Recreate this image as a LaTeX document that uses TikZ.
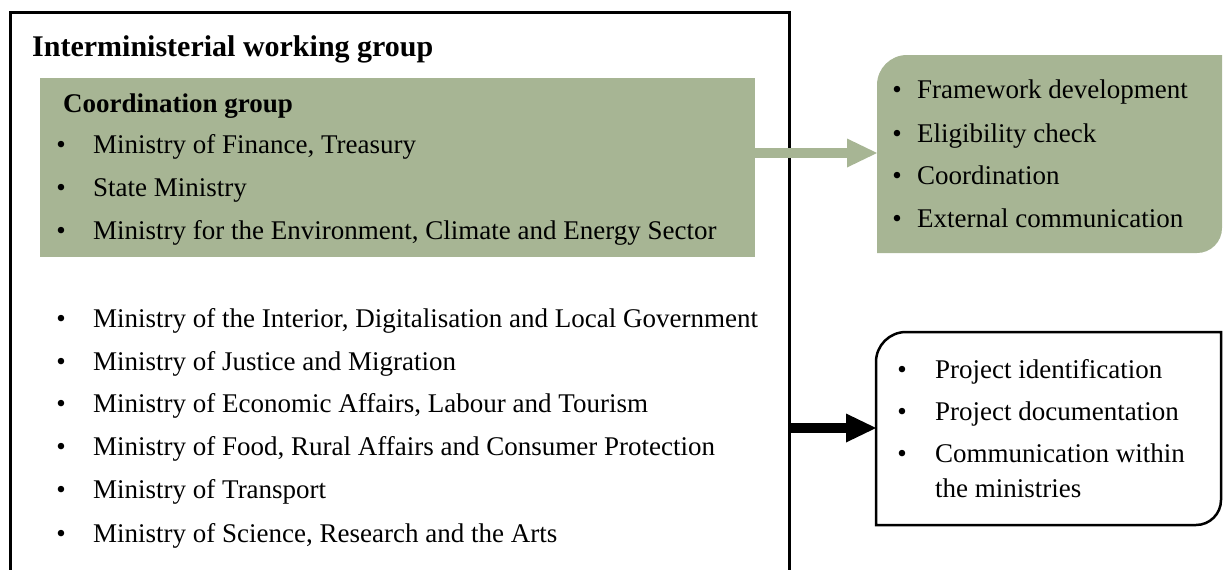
\documentclass[tikz,border=0pt]{standalone}
\usepackage{fontspec}
\setmainfont{Liberation Serif}
\usetikzlibrary{arrows.meta}
\definecolor{sage}{HTML}{A7B594}

\tikzset{
  entry/.style={anchor=base west,inner sep=0pt,font=\fontsize{27}{32}\selectfont},
  boldentry/.style={entry,font=\fontsize{27}{32}\selectfont\bfseries},
  link/.style={line width=10pt,-{Triangle[length=30pt,width=29pt,line width=0pt]}},
}
\newcommand{\blt}[1]{\llap{•\hspace{#1pt}}}

\begin{document}
\begin{tikzpicture}[x=1pt,y=-1pt]
\useasboundingbox (0,0) rectangle (1223,570);
% interministerial working group (runs off the bottom)
\draw[line width=3pt] (10,600) -- (10,12) -- (789,12) -- (789,600);
\node[boldentry,font=\fontsize{30}{36}\selectfont\bfseries] (iwg) at (32,56) {Interministerial working group};
% coordination group
\fill[sage] (40,78) rectangle (755,257);
\node[boldentry] (cg) at (63,112) {Coordination group};
\node[entry] (c1) at (93,153) {\blt{27.3}Ministry of Finance, Treasury};
\node[entry] (c2) at (93,196) {\blt{27.3}State Ministry};
\node[entry] (c3) at (93,239) {\blt{27.3}Ministry for the Environment, Climate and Energy Sector};
% other ministries
\node[entry] (m1) at (93,327) {\blt{27.3}Ministry of the Interior, Digitalisation and Local Government};
\node[entry] (m2) at (93,370) {\blt{27.3}Ministry of Justice and Migration};
\node[entry] (m3) at (93,412) {\blt{27.3}Ministry of Economic Affairs, Labour and Tourism};
\node[entry] (m4) at (93,455) {\blt{27.3}Ministry of Food, Rural Affairs and Consumer Protection};
\node[entry] (m5) at (93,498) {\blt{27.3}Ministry of Transport};
\node[entry] (m6) at (93,542) {\blt{27.3}Ministry of Science, Research and the Arts};
% tasks of the coordination group
\fill[sage] (877,253) -- (877,85) arc[start angle=180,end angle=270,radius=30] -- (1222,55) -- (1222,228) arc[start angle=0,end angle=90,radius=25] -- cycle;
\node[entry] (f1) at (917,98) {\blt{15.3}Framework development};
\node[entry] (f2) at (917,142) {\blt{15.3}Eligibility check};
\node[entry] (f3) at (917,184) {\blt{15.3}Coordination};
\node[entry] (f4) at (917,227) {\blt{15.3}External communication};
% tasks of the ministries
\draw[line width=2.5pt] (876,525) -- (876,362) arc[start angle=180,end angle=270,radius=30] -- (1221,332) -- (1221,500) arc[start angle=0,end angle=90,radius=25] -- cycle;
\node[entry] (p1) at (935,378) {\blt{28.3}Project identification};
\node[entry] (p2) at (935,420) {\blt{28.3}Project documentation};
\node[entry] (p3) at (935,462) {\blt{28.3}Communication within};
\node[entry] (p4) at (935,497) {the ministries};
% arrows
\coordinate (cgE) at (755,153);
\coordinate (tasksW) at (877,153);
\coordinate (iwgE) at (789,428);
\coordinate (projW) at (876,428);
\draw[link,sage] (cgE) -- (tasksW);
\draw[link,black] (iwgE) -- (projW);
\end{tikzpicture}
\end{document}
